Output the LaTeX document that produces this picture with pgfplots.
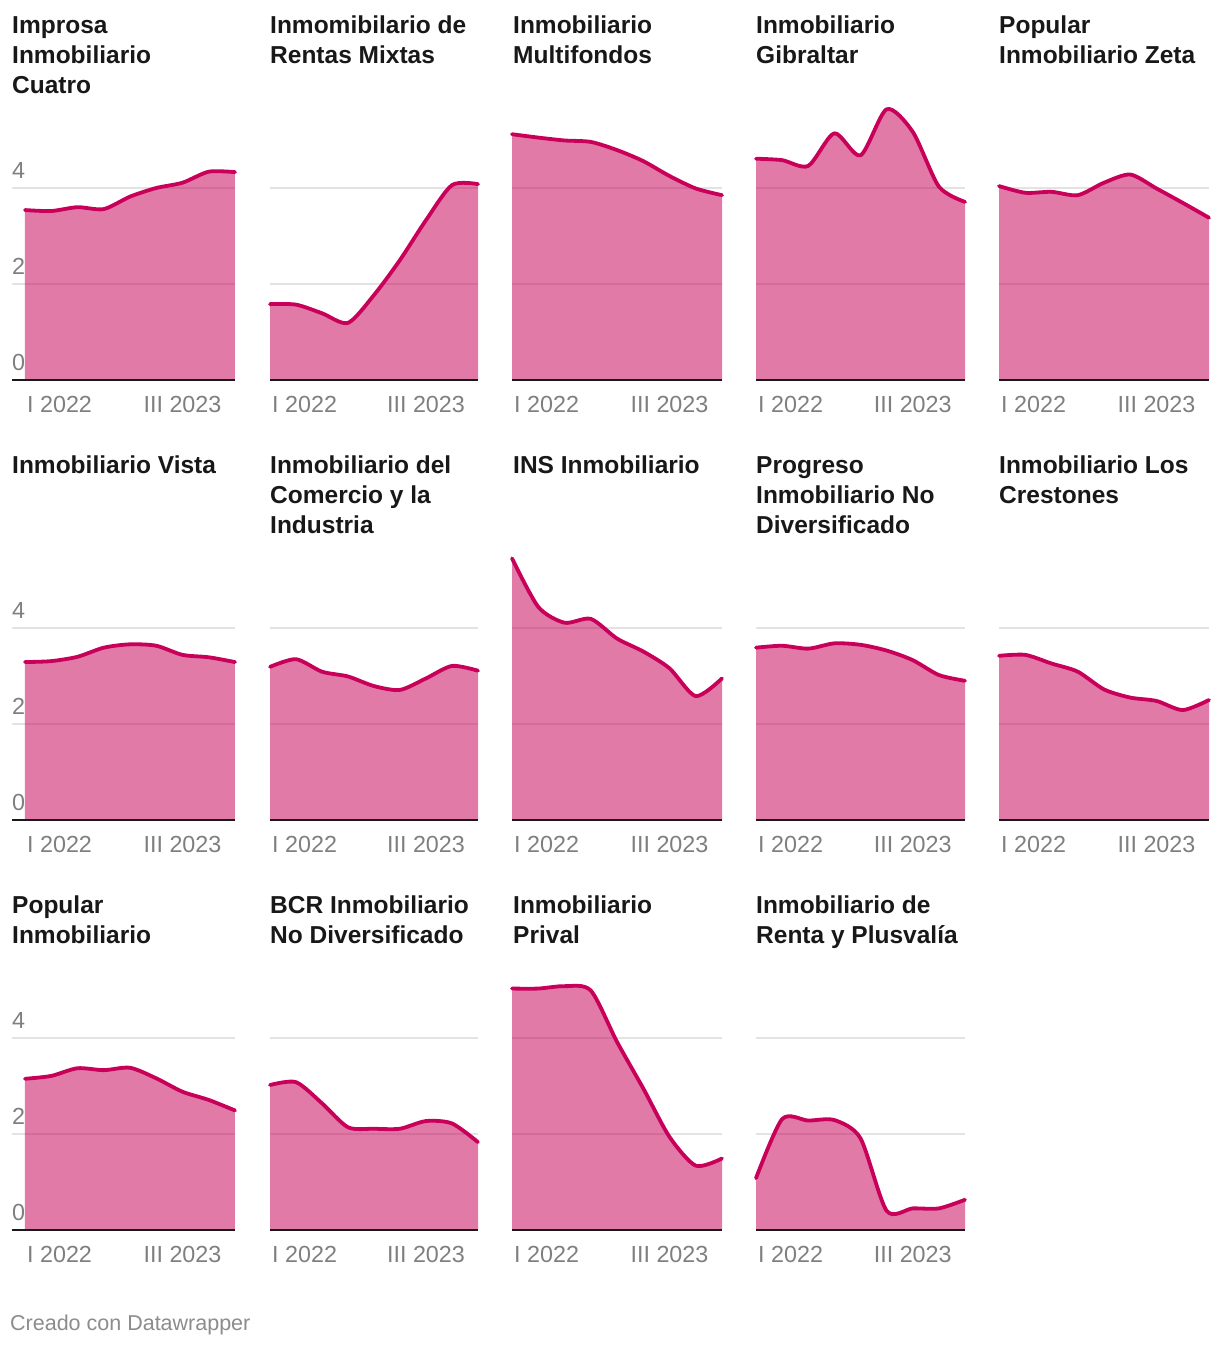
\documentclass[border=0pt]{standalone}
\usepackage{pgfplots}
\pgfplotsset{compat=1.18}
\usepackage{fontspec}
\setmainfont{Liberation Sans}
\definecolor{linec}{HTML}{C8005A}
\definecolor{gridc}{HTML}{E3E3E3}
\definecolor{tickc}{HTML}{7F7F7F}
\definecolor{footc}{HTML}{8C8C8C}
\definecolor{titc}{HTML}{181818}
\newcommand{\tfont}{\fontsize{24.5}{30}\selectfont\bfseries}
\newcommand{\kfont}{\fontsize{23.3}{27}\selectfont}
\tikzset{tit/.style={anchor=base west, inner sep=0pt, font=\tfont, text=titc},
         tick/.style={inner sep=0pt, font=\kfont, text=tickc}}
\newcommand{\ylabs}{%
  \node[tick, anchor=base west] at ([xshift=-13pt,yshift=9pt]axis cs:0,0) {0};
  \node[tick, anchor=base west] at ([xshift=-13pt,yshift=9pt]axis cs:0,2) {2};
  \node[tick, anchor=base west] at ([xshift=-13pt,yshift=9pt]axis cs:0,4) {4};}
% #1 x0, #2 width, #3 baseline y, #4 left extension, #5 coords, #6 extra
\newcommand{\panel}[6]{%
\begin{axis}[at={(#1pt,#3pt)}, anchor=south west, scale only axis,
  width=#2pt, height=273.6pt, xmin=0, xmax=8, ymin=0, ymax=5.7,
  hide axis, clip=false]
  \draw[gridc, line width=1.5pt] ([xshift=-#4pt]axis cs:0,2) -- (axis cs:8,2);
  \draw[gridc, line width=1.5pt] ([xshift=-#4pt]axis cs:0,4) -- (axis cs:8,4);
  #6
  \addplot[draw=none, fill=linec, fill opacity=0.52, smooth, tension=0.45] coordinates {#5} \closedcycle;
  \addplot[linec, line width=3.8pt, smooth, tension=0.45, line cap=round, line join=round] coordinates {#5};
  \draw[black!90, line width=2.2pt] ([xshift=-#4pt]axis cs:0,0) -- (axis cs:8,0);
  \node[tick, anchor=base west] at ([xshift=2pt,yshift=-33pt]axis cs:0,0) {I 2022};
  \node[tick, anchor=base] at ([yshift=-33pt]axis cs:6,0) {III 2023};
\end{axis}}
\begin{document}
\begin{tikzpicture}
\useasboundingbox (0,0) rectangle (1220pt,1346pt);
\fill[white] (0,0) rectangle (1220pt,1346pt);
% row 1
\panel{25}{210}{966}{13}{(0,3.54)(1,3.52)(2,3.60)(3,3.56)(4,3.82)(5,4.00)(6,4.11)(7,4.34)(8,4.33)}{\ylabs}
\panel{270}{208}{966}{0}{(0,1.58)(1,1.57)(2,1.39)(3,1.19)(4,1.77)(5,2.50)(6,3.33)(7,4.06)(8,4.08)}{}
\panel{512}{210}{966}{0}{(0,5.12)(1,5.05)(2,4.99)(3,4.96)(4,4.79)(5,4.56)(6,4.25)(7,3.99)(8,3.85)}{}
\panel{756}{209}{966}{0}{(0,4.61)(1,4.58)(2,4.46)(3,5.14)(4,4.68)(5,5.64)(6,5.17)(7,4.03)(8,3.71)}{}
\panel{999}{210}{966}{0}{(0,4.04)(1,3.90)(2,3.92)(3,3.85)(4,4.11)(5,4.28)(6,3.99)(7,3.69)(8,3.38)}{}
% row 2
\panel{25}{210}{526}{13}{(0,3.29)(1,3.31)(2,3.40)(3,3.59)(4,3.66)(5,3.63)(6,3.44)(7,3.39)(8,3.29)}{\ylabs}
\panel{270}{208}{526}{0}{(0,3.19)(1,3.35)(2,3.09)(3,2.99)(4,2.79)(5,2.71)(6,2.95)(7,3.21)(8,3.11)}{}
\panel{512}{210}{526}{0}{(0,5.45)(1,4.44)(2,4.11)(3,4.19)(4,3.78)(5,3.51)(6,3.16)(7,2.58)(8,2.95)}{}
\panel{756}{209}{526}{0}{(0,3.59)(1,3.63)(2,3.57)(3,3.68)(4,3.65)(5,3.53)(6,3.33)(7,3.02)(8,2.90)}{}
\panel{999}{210}{526}{0}{(0,3.42)(1,3.44)(2,3.26)(3,3.09)(4,2.72)(5,2.55)(6,2.48)(7,2.29)(8,2.50)}{}
% row 3
\panel{25}{210}{116}{13}{(0,3.15)(1,3.21)(2,3.37)(3,3.33)(4,3.38)(5,3.16)(6,2.88)(7,2.71)(8,2.49)}{\ylabs}
\panel{270}{208}{116}{0}{(0,3.02)(1,3.08)(2,2.64)(3,2.14)(4,2.11)(5,2.11)(6,2.27)(7,2.22)(8,1.83)}{}
\panel{512}{210}{116}{0}{(0,5.03)(1,5.03)(2,5.08)(3,4.99)(4,3.92)(5,2.95)(6,1.94)(7,1.34)(8,1.49)}{}
\panel{756}{209}{116}{0}{(0,1.08)(1,2.31)(2,2.28)(3,2.29)(4,1.91)(5,0.40)(6,0.45)(7,0.45)(8,0.63)}{}
% titles row 1
\node[tit] at (12pt,1312pt) {Improsa};
\node[tit] at (12pt,1282pt) {Inmobiliario};
\node[tit] at (12pt,1252pt) {Cuatro};
\node[tit] at (270pt,1312pt) {Inmomibilario de};
\node[tit] at (270pt,1282pt) {Rentas Mixtas};
\node[tit] at (513pt,1312pt) {Inmobiliario};
\node[tit] at (513pt,1282pt) {Multifondos};
\node[tit] at (756pt,1312pt) {Inmobiliario};
\node[tit] at (756pt,1282pt) {Gibraltar};
\node[tit] at (999pt,1312pt) {Popular};
\node[tit] at (999pt,1282pt) {Inmobiliario Zeta};
% titles row 2
\node[tit] at (12pt,872pt) {Inmobiliario Vista};
\node[tit] at (270pt,872pt) {Inmobiliario del};
\node[tit] at (270pt,842pt) {Comercio y la};
\node[tit] at (270pt,812pt) {Industria};
\node[tit] at (513pt,872pt) {INS Inmobiliario};
\node[tit] at (756pt,872pt) {Progreso};
\node[tit] at (756pt,842pt) {Inmobiliario No};
\node[tit] at (756pt,812pt) {Diversificado};
\node[tit] at (999pt,872pt) {Inmobiliario Los};
\node[tit] at (999pt,842pt) {Crestones};
% titles row 3
\node[tit] at (12pt,432pt) {Popular};
\node[tit] at (12pt,402pt) {Inmobiliario};
\node[tit] at (270pt,432pt) {BCR Inmobiliario};
\node[tit] at (270pt,402pt) {No Diversificado};
\node[tit] at (513pt,432pt) {Inmobiliario};
\node[tit] at (513pt,402pt) {Prival};
\node[tit] at (756pt,432pt) {Inmobiliario de};
\node[tit] at (756pt,402pt) {Renta y Plusvalía};
% footer
\node[anchor=base west, inner sep=0pt, font=\fontsize{21.5}{25}\selectfont, text=footc] at (10pt,16pt) {Creado con Datawrapper};
\end{tikzpicture}
\end{document}
